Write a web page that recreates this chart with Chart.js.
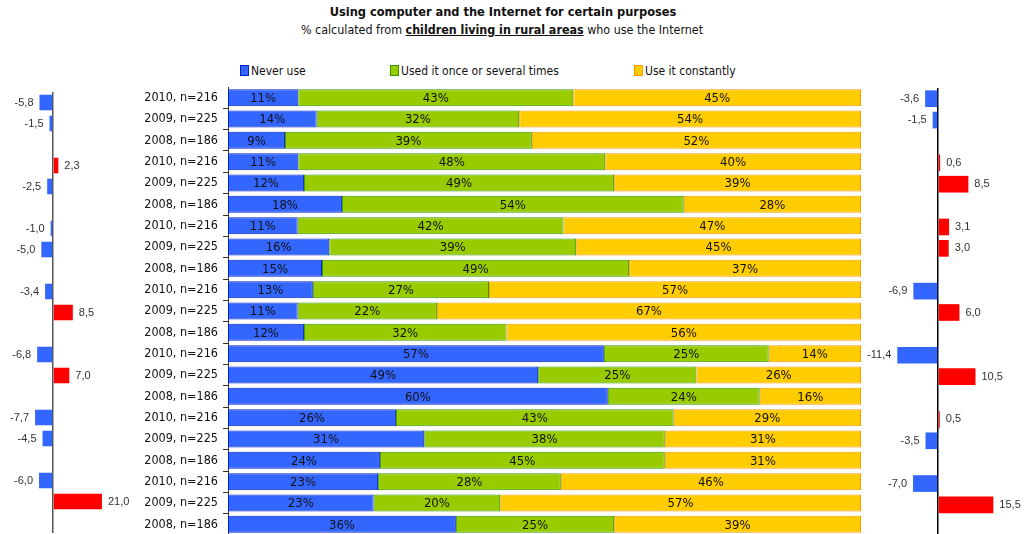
<!DOCTYPE html>
<html>
<head>
<meta charset="utf-8">
<script src="https://cdn.jsdelivr.net/npm/chart.js@4"></script>
<style>
  body { margin: 0; background: #fff; width: 1034px; height: 534px; overflow: hidden; position: relative;
         font-family: "DejaVu Sans Condensed", "DejaVu Sans", sans-serif; color: #111; }
  .title { position: absolute; left: 0; width: 1006px; top: 4px; text-align: center; font-weight: bold; font-size: 12.7px; }
  .subtitle { position: absolute; left: 0; width: 1004px; top: 22px; text-align: center; font-size: 12.4px; }
  .subtitle b { text-decoration: underline; }
  .legend-item { position: absolute; top: 64px; font-size: 12px; line-height: 14px; }
  .legend-item span { display: inline-block; width: 7px; height: 9px; vertical-align: -1px; margin-right: 2px; border: 1px solid; }
  canvas { position: absolute; }
</style>
</head>
<body>
<div class="title">Using computer and the Internet for certain purposes</div>
<div class="subtitle">% calculated from <b>children living in rural areas</b> who use the Internet</div>
<div class="legend-item" style="left:240px"><span style="background:#3366ff;border-color:#0022cc"></span>Never use</div>
<div class="legend-item" style="left:390px"><span style="background:#99cc00;border-color:#339900"></span>Used it once or several times</div>
<div class="legend-item" style="left:634px"><span style="background:#ffcc00;border-color:#ff9900"></span>Use it constantly</div>

<div id="leftBox" style="position:absolute;left:0;top:92px;width:140px;height:441px"><canvas id="leftChart"></canvas></div>
<div id="mainBox" style="position:absolute;left:130px;top:87px;width:731px;height:448px"><canvas id="mainChart"></canvas></div>
<div id="rightBox" style="position:absolute;left:860px;top:88px;width:174px;height:449px"><canvas id="rightChart"></canvas></div>

<script>
const rowLabels = [
  '2010, n=216', '2009, n=225', '2008, n=186',
  '2010, n=216', '2009, n=225', '2008, n=186',
  '2010, n=216', '2009, n=225', '2008, n=186',
  '2010, n=216', '2009, n=225', '2008, n=186',
  '2010, n=216', '2009, n=225', '2008, n=186',
  '2010, n=216', '2009, n=225', '2008, n=186',
  '2010, n=216', '2009, n=225', '2008, n=186'
];

// shares in %, as printed on the bars
const neverUse = [11, 14, 9, 11, 12, 18, 11, 16, 15, 13, 11, 12, 57, 49, 60, 26, 31, 24, 23, 23, 36];
const usedSometimes = [43, 32, 39, 48, 49, 54, 42, 39, 49, 27, 22, 32, 25, 25, 24, 43, 38, 45, 28, 20, 25];
const useConstantly = [45, 54, 52, 40, 39, 28, 47, 45, 37, 57, 67, 56, 14, 26, 16, 29, 31, 31, 46, 57, 39];

// year-on-year change, left and right side columns (no value for 2008 rows)
const changeLeft = [-5.8, -1.5, null, 2.3, -2.5, null, -1.0, -5.0, null, -3.4, 8.5, null, -6.8, 7.0, null, -7.7, -4.5, null, -6.0, 21.0, null];
const changeRight = [-3.6, -1.5, null, 0.6, 8.5, null, 3.1, 3.0, null, -6.9, 6.0, null, -11.4, 10.5, null, 0.5, -3.5, null, -7.0, 15.5, null];

const FONT = '"DejaVu Sans Condensed", "DejaVu Sans", sans-serif';
Chart.defaults.animation = false;
Chart.defaults.font.family = FONT;

// each row is scaled to fill 100%
const rowTotals = neverUse.map((v, i) => v + usedSometimes[i] + useConstantly[i]);
const toShare = arr => arr.map((v, i) => v / rowTotals[i] * 100);

const barLabels = {
  id: 'barLabels',
  afterDatasetsDraw(chart, args, opts) {
    const ctx = chart.ctx;
    ctx.save();
    ctx.font = opts.font;
    ctx.fillStyle = opts.color;
    ctx.textBaseline = 'middle';
    chart.data.datasets.forEach((ds, di) => {
      const meta = chart.getDatasetMeta(di);
      meta.data.forEach((bar, i) => {
        const raw = ds.raw ? ds.raw[i] : ds.data[i];
        if (raw === null || raw === undefined) return;
        if (opts.mode === 'inside') {
          ctx.textAlign = 'center';
          ctx.fillText(raw + '%', (bar.x + bar.base) / 2, bar.y + 1);
        } else {
          const txt = raw.toFixed(1).replace('.', ',');
          if (raw >= 0) {
            ctx.textAlign = 'left';
            ctx.fillText(txt, bar.x + 6, bar.y);
          } else {
            ctx.textAlign = 'right';
            ctx.fillText(txt, bar.x - 6, bar.y);
          }
        }
      });
    });
    ctx.restore();
  }
};

new Chart(document.getElementById('mainChart'), {
  type: 'bar',
  data: {
    labels: rowLabels,
    datasets: [
      { label: 'Never use', data: toShare(neverUse), raw: neverUse, backgroundColor: '#3366ff', borderColor: '#0022cc' },
      { label: 'Used it once or several times', data: toShare(usedSometimes), raw: usedSometimes, backgroundColor: '#99cc00', borderColor: '#339900' },
      { label: 'Use it constantly', data: toShare(useConstantly), raw: useConstantly, backgroundColor: '#ffcc00', borderColor: '#ff9900' }
    ]
  },
  options: {
    indexAxis: 'y',
    responsive: true,
    maintainAspectRatio: false,
    layout: { padding: 0 },
    datasets: { bar: { borderWidth: 1, borderSkipped: false, barPercentage: 0.8, categoryPercentage: 1 } },
    plugins: {
      legend: { display: false },
      tooltip: { enabled: false },
      barLabels: { mode: 'inside', font: '13px ' + FONT, color: '#111' }
    },
    scales: {
      x: { stacked: true, min: 0, max: 100, display: false },
      y: {
        stacked: true,
        afterFit(scale) {
          scale.width = 98;
          scale.paddingTop = 0;
          scale.paddingBottom = 0;
        },
        border: { display: true, color: '#333' },
        grid: { offset: true, drawOnChartArea: false, drawTicks: true, tickLength: 5, color: '#333' },
        ticks: { color: '#111', padding: 5, font: { size: 12.5 }, autoSkip: false }
      }
    }
  },
  plugins: [barLabels]
});

function sideChart(id, values, min, max, axisColor, pct) {
  new Chart(document.getElementById(id), {
    type: 'bar',
    data: {
      labels: rowLabels,
      datasets: [{
        data: values,
        backgroundColor: values.map(v => v < 0 ? '#3366ff' : '#ff0000'),
        borderWidth: 0,
        barPercentage: pct,
        categoryPercentage: 1
      }]
    },
    options: {
      indexAxis: 'y',
      responsive: true,
      maintainAspectRatio: false,
      layout: { padding: 0 },
      plugins: {
        legend: { display: false },
        tooltip: { enabled: false },
        barLabels: { mode: 'outside', font: '11px "Liberation Sans", Arial, sans-serif', color: '#333' }
      },
      scales: {
        x: {
          min: min, max: max,
          grid: {
            drawTicks: false,
            color: ctx => ctx.tick && ctx.tick.value === 0 ? axisColor : 'transparent',
            lineWidth: ctx => ctx.tick && ctx.tick.value === 0 ? 1.5 : 0
          },
          ticks: { display: false, stepSize: 1 },
          border: { display: false }
        },
        y: { display: false }
      }
    },
    plugins: [barLabels]
  });
}

sideChart('leftChart', changeLeft, -22.75, 37.33, '#555', 0.74);
sideChart('rightChart', changeRight, -21.85, 26.89, '#000', 0.78);
</script>
</body>
</html>
